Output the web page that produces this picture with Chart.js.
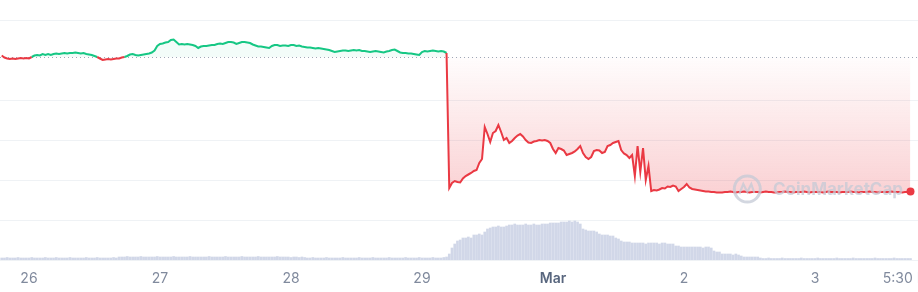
<!DOCTYPE html>
<html>
<head>
<meta charset="utf-8">
<script src="https://cdn.jsdelivr.net/npm/chart.js@4.4.1/dist/chart.umd.min.js"></script>
<style>
html,body{margin:0;padding:0;background:#fff;overflow:hidden;}
#wrap{width:1000px;height:292px;}
</style>
</head>
<body>
<div id="wrap"><canvas id="chart" width="1000" height="292"></canvas></div>
<script>
// hours counted from Feb 26 00:00, one sample every 30 min
const START_HOUR = -5;
const STEP_HOURS = 0.5;
const BASE_PRICE = 202.7;

const TICK_HOURS = [0, 24, 48, 72, 96, 120, 144, 161.5];
const TICK_LABELS = ["26", "27", "28", "29", "Mar", "2", "3", "5:30 PM"];

const PRICE = [
  204.5, 202.5, 201.5, 201, 201.5, 201, 201.5, 202, 201.5, 202,
  201.5, 203, 204.5, 205, 204.5, 206, 205, 206, 205, 206,
  206.5, 206, 206.5, 207, 206.5, 207, 207, 207.5, 207, 206.5,
  207, 206, 205.5, 205, 204, 203, 201.5, 200, 200.5, 201,
  200.5, 201, 201.5, 201.5, 202.5, 203, 204, 205.5, 206, 205,
  204.5, 205, 205.5, 206, 206.5, 207.5, 209.5, 214, 216, 216.5,
  217.5, 218, 220, 220.5, 218, 215.5, 216, 215.5, 216, 215.5,
  215, 214, 212, 213.5, 214, 214, 214.5, 215, 215, 216,
  216.5, 216, 217, 218, 218, 217.5, 216, 217, 218, 218,
  217.5, 217, 215.5, 214.5, 213.5, 213.5, 213, 212.5, 212, 214,
  215, 215, 214, 214.5, 214.5, 214, 215, 215, 214, 214.5,
  213.5, 213, 212.5, 212.5, 212, 211.5, 212, 211.5, 211, 210.5,
  210, 209, 208, 208.5, 209, 209.5, 209.5, 209, 209.5, 210,
  209.5, 210, 209, 209, 208.5, 208, 208.5, 209, 208.5, 208,
  207.5, 208.5, 209, 210, 210.5, 209, 207.5, 207, 207, 206.5,
  206.5, 206, 205.5, 205, 208, 209, 208.5, 209, 209.5, 209,
  208.5, 209, 208.5, 207,
  72, 77, 79, 78, 77.5, 81.5, 84, 85.5, 87, 89,
  90, 97, 101, 133, 126, 118, 127, 129, 135, 128,
  120, 122, 117, 119, 122, 124.5, 126, 123.5, 120, 117.5,
  117, 118.5, 119, 120, 119.5, 120, 119, 117, 111, 107,
  112, 111, 109.5, 105, 106, 107, 108.5, 111, 114, 107,
  103, 101, 103, 109, 110, 109.5, 107, 108, 114, 115,
  117, 118, 119, 110, 106.5, 105, 102, 105,
  84, 114, 88, 112, 80, 94, 69,
  70, 69.5, 70.5, 72, 71.5, 73.5, 73, 74.5, 73.5, 69,
  71, 73, 76, 72.5, 71, 70.5, 70, 69.5, 69, 68.5,
  68.5, 68, 68, 67.5, 67.5, 67.5, 68,
  68, 68.5, 68, 67.5, 68, 68, 68.5, 68, 67.5, 68,
  68, 68, 67.5, 68, 68.5, 68, 68, 67.5, 67.5, 68,
  68, 68.5, 68, 68, 67.5, 68, 68, 68, 68.5, 68,
  67.5, 68, 68, 68, 68, 67.5, 68, 68.5, 68, 68,
  68, 67.5, 68, 68, 68, 68.5, 68, 68, 67.5, 68,
  68, 68, 68.5, 68, 68, 67.5, 68, 68, 68, 68,
  68.5, 68, 68, 68, 67.5, 68, 68, 68.5
];

const VOLUME = [
  2, 2, 2.5, 2, 2, 2, 2.5, 2, 2, 2,
  2, 2.5, 2, 2, 2, 2, 2.5, 2, 2, 2,
  2.5, 2, 2, 2, 2, 2.5, 2, 2, 2, 2,
  2, 2.5, 2, 2, 2, 2.5, 2, 2, 2, 2,
  2, 2.5, 2,
  3, 3, 3, 3.5, 3, 3, 3, 3, 3.5, 3,
  3, 3, 3, 3, 3.5, 3, 3, 3, 3, 3,
  3.5, 3, 3, 3, 3, 3, 3.5, 3, 3, 3,
  3, 3, 3, 3.5, 3, 3, 3, 3, 3, 3.5,
  3, 3, 3, 3, 3, 3.5, 3, 3, 3, 3,
  3, 3.5, 3, 3, 3, 3, 3, 3, 3.5, 3,
  3, 3, 3, 2.5, 3, 3, 2.5, 3, 2.5,
  2, 2, 2.5, 2, 2, 2, 2, 2.5, 2, 2,
  2, 2, 2, 2.5, 2, 2, 2, 2, 2, 2.5,
  2, 2, 2, 2, 2.5, 2, 2, 2, 2, 2,
  2.5, 2, 2, 2, 2, 2, 2.5, 2, 2, 2,
  2, 2.5, 2, 2, 2, 2, 2.5, 2, 2, 2,
  2.5, 3,
  6, 12, 16, 19, 20,
  22, 22, 23, 22,
  25, 25, 26, 25,
  28, 31,
  32, 33, 33, 34, 33, 33, 34,
  35, 35, 36, 35, 35, 35, 36, 35, 35, 36, 35, 35, 36, 36, 36, 37,
  37, 37, 37, 38,
  38, 38, 39, 38, 39, 38,
  36, 31,
  30, 29, 29, 29, 28,
  26, 25, 25, 25, 24, 24,
  22, 21,
  19, 18, 18, 18, 17,
  17, 17, 17, 17, 16, 17, 17, 17, 17, 16, 17, 17, 16, 16, 16,
  14, 14, 13, 13, 13, 13, 13, 13, 13, 13, 12, 13, 13, 12,
  9, 8, 8,
  6, 6, 6, 6, 5, 6, 5,
  4, 3, 3, 3, 3, 3, 3, 2,
  1.5, 1.5, 2, 1.5, 1.5, 1.5, 1.5, 2, 1.5, 1.5,
  1.5, 1.5, 1.5, 1.5, 2, 1.5, 1.5, 1.5, 1.5, 1.5,
  2, 1.5, 1.5, 1.5, 1.5, 1.5, 1.5, 2, 1.5, 1.5,
  1.5, 1.5, 1.5, 2, 1.5, 1.5, 1.5, 1.5, 1.5, 1.5,
  1.5, 2, 1.5, 1.5, 1.5, 1.5, 1.5, 1.5, 2, 1.5,
  1.5, 1.5, 1.5, 1.5, 1.5
];

const WATERMARK_TEXT = "CoinMarketCap";

const GREEN = "#16c784";
const RED = "#ea3943";
const GRID = "#eff2f5";
const TICK_GREY = "#808a9d";

const priceData = PRICE.map((p, i) => ({ x: START_HOUR + i * STEP_HOURS, y: p }));
const volumeData = VOLUME.map((v, i) => ({ x: START_HOUR + i * STEP_HOURS, y: v }));

// dotted reference line at the opening price
const baseline = {
  id: "baseline",
  beforeDatasetsDraw(chart) {
    const { ctx, chartArea, scales } = chart;
    const py = Math.round(scales.y.getPixelForValue(BASE_PRICE)) + 0.5;
    ctx.save();
    ctx.strokeStyle = "rgba(128,138,157,0.75)";
    ctx.lineWidth = 1;
    ctx.setLineDash([1, 3]);
    ctx.beginPath();
    ctx.moveTo(chartArea.left, py);
    ctx.lineTo(chartArea.right, py);
    ctx.stroke();
    ctx.restore();
  }
};

// faint logo + name over the plot
const watermark = {
  id: "watermark",
  afterDatasetsDraw(chart) {
    const { ctx, scales } = chart;
    const cx = scales.x.getPixelForValue(131.6);
    const cy = scales.y.getPixelForValue(71);
    ctx.save();
    ctx.strokeStyle = "rgba(196,202,214,0.75)";
    ctx.fillStyle = "rgba(196,202,214,0.75)";
    ctx.lineWidth = 3;
    ctx.beginPath();
    ctx.arc(cx, cy, 13, 0, Math.PI * 2);
    ctx.stroke();
    ctx.lineWidth = 2.2;
    ctx.beginPath();
    ctx.moveTo(cx - 8, cy + 5);
    ctx.lineTo(cx - 4, cy - 5);
    ctx.lineTo(cx, cy + 3);
    ctx.lineTo(cx + 4, cy - 5);
    ctx.lineTo(cx + 7, cy + 4);
    ctx.stroke();
    ctx.font = "bold 17px Inter";
    ctx.textBaseline = "middle";
    ctx.fillText(WATERMARK_TEXT, scales.x.getPixelForValue(136.3), cy + 1);
    ctx.restore();
  }
};

const chart = new Chart(document.getElementById("chart"), {
  data: {
    datasets: [
      {
        type: "line",
        data: priceData,
        yAxisID: "y",
        order: 0,
        borderWidth: 2,
        borderColor: GREEN,
        tension: 0,
        pointRadius: ctx => (ctx.dataIndex === PRICE.length - 1 ? 4 : 0),
        pointBackgroundColor: RED,
        pointBorderWidth: 0,
        segment: {
          borderColor: ctx =>
            ctx.p0.parsed.y < BASE_PRICE || ctx.p1.parsed.y < BASE_PRICE ? RED : GREEN
        },
        fill: {
          target: { value: BASE_PRICE },
          above: "rgba(22,199,132,0.05)",
          below: "rgba(234,57,67,0.12)"
        }
      },
      {
        type: "bar",
        data: volumeData,
        yAxisID: "yv",
        order: 1,
        backgroundColor: "rgba(190,198,222,0.7)",
        barThickness: 2
      }
    ]
  },
  options: {
    responsive: false,
    animation: false,
    layout: { autoPadding: false, padding: { top: 20, left: 0, right: 0, bottom: 0 } },
    plugins: { legend: { display: false }, tooltip: { enabled: false } },
    scales: {
      x: {
        type: "linear",
        min: -5.31,
        max: 177.9,
        offset: false,
        grid: { display: false, drawTicks: false, tickLength: 0 },
        border: { display: false },
        afterBuildTicks: s => { s.ticks = TICK_HOURS.map(v => ({ value: v })); },
        afterFit: s => { s.height = 32; },
        ticks: {
          autoSkip: false,
          maxRotation: 0,
          padding: 10,
          callback: (v, i) => TICK_LABELS[i],
          font: ctx => ({
            family: "Inter",
            size: 14,
            weight: TICK_LABELS[ctx.index] === "Mar" ? "600" : "400"
          }),
          color: ctx => (TICK_LABELS[ctx.index] === "Mar" ? "#58667e" : TICK_GREY)
        }
      },
      y: {
        min: 0,
        max: 240,
        afterFit: s => { s.width = 0; },
        ticks: { stepSize: 40, display: false },
        grid: {
          drawTicks: false,
          color: ctx => (ctx.tick && ctx.tick.value === 200 ? "rgba(0,0,0,0)" : GRID)
        },
        border: { display: false }
      },
      yv: { display: false, min: 0, max: 240 }
    }
  },
  plugins: [baseline, watermark]
});

// fade the red area from the baseline down to the lows
const ys = chart.scales.y;
const grad = chart.ctx.createLinearGradient(0, ys.getPixelForValue(BASE_PRICE), 0, ys.getPixelForValue(66));
grad.addColorStop(0, "rgba(234,57,67,0.01)");
grad.addColorStop(1, "rgba(234,57,67,0.23)");
chart.data.datasets[0].fill.below = grad;
chart.update("none");
</script>
</body>
</html>
